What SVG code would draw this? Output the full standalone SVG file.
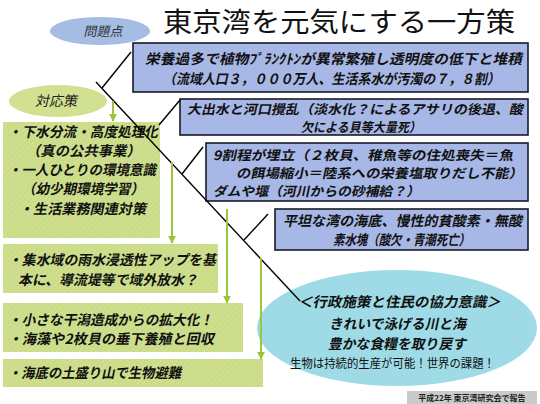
<svg xmlns="http://www.w3.org/2000/svg" width="540" height="404" viewBox="0 0 540 404">
<style>
.t{font-family:"Noto Sans CJK JP","Noto Sans CJK SC",sans-serif;}
.bx{font-family:"Noto Sans CJK JP","Noto Sans CJK SC",sans-serif;font-weight:bold;fill:#111;font-size:14px;}
.s{font-size:13px;}
.blue{fill:#a7b7e6;stroke:#1a1a2a;stroke-width:1.6;}
.ln{stroke:#000;stroke-width:1.4;fill:none;}
.ga{stroke:#9dc43a;stroke-width:2;fill:none;marker-end:url(#ah);}
</style>
<defs>
<marker id="ah" viewBox="0 0 10 10" refX="9" refY="5" markerWidth="4" markerHeight="4" orient="auto"><path d="M0,0 L10,5 L0,10 z" fill="#9dc43a"/></marker>
<pattern id="hb" width="4" height="4" patternUnits="userSpaceOnUse" patternTransform="rotate(45)"><rect width="4" height="4" fill="#a7b7e6"/><line x1="0" y1="0" x2="0" y2="4" stroke="#bac7ee" stroke-width="1"/></pattern>
<pattern id="hg" width="4" height="4" patternUnits="userSpaceOnUse" patternTransform="rotate(45)"><rect width="4" height="4" fill="#cbdc88"/><line x1="0" y1="0" x2="0" y2="4" stroke="#d9e6a3" stroke-width="1"/></pattern>
</defs>
<rect width="540" height="404" fill="#fff"/>

<g id="title"><text class="t" x="339" y="32" font-size="27" text-anchor="middle" fill="#111" textLength="352" lengthAdjust="spacingAndGlyphs">東京湾を元気にする一方策</text></g>

<g id="mondai"><ellipse cx="100" cy="31" rx="50" ry="14" fill="#a5bde3"/><text class="t" transform="translate(103,36) skewX(-12)" font-size="13" text-anchor="middle" fill="#333">問題点</text></g>
<g id="taiou"><ellipse cx="58" cy="101" rx="49" ry="16" fill="#d2e191"/><text class="t" transform="translate(56,106) skewX(-12)" font-size="14" text-anchor="middle" fill="#222">対応策</text></g>

<g id="p1"><rect class="blue" x="133" y="43" width="395" height="49" fill="url(#hb)"/>
<text class="bx" transform="translate(145,64) skewX(-12)" textLength="377" lengthAdjust="spacingAndGlyphs">栄養過多で植物ﾌﾟﾗﾝｸﾄﾝが異常繁殖し透明度の低下と堆積</text>
<text class="bx" transform="translate(163,84) skewX(-12)" textLength="337" lengthAdjust="spacingAndGlyphs">（流域人口３，０００万人、生活系水が汚濁の７，８割）</text></g>

<g id="p2"><rect class="blue" x="180" y="99" width="348" height="36" fill="url(#hb)"/>
<text class="bx s" transform="translate(187,114) skewX(-12)" textLength="336" lengthAdjust="spacingAndGlyphs">大出水と河口攪乱（淡水化？によるアサリの後退、酸</text>
<text class="bx s" transform="translate(301,132) skewX(-12)" textLength="120" lengthAdjust="spacingAndGlyphs">欠による貝等大量死）</text></g>

<g id="p3"><rect class="blue" x="206" y="143" width="322" height="58" fill="url(#hb)"/>
<text class="bx s" transform="translate(213,160) skewX(-12)" textLength="300" lengthAdjust="spacingAndGlyphs">9割程が埋立（２枚貝、稚魚等の住処喪失＝魚</text>
<text class="bx s" transform="translate(236,178) skewX(-12)" textLength="287" lengthAdjust="spacingAndGlyphs">の餌場縮小＝陸系への栄養塩取りだし不能）</text>
<text class="bx s" transform="translate(213,196) skewX(-12)" textLength="207" lengthAdjust="spacingAndGlyphs">ダムや堰（河川からの砂補給？）</text></g>

<g id="p4"><rect class="blue" x="275" y="209" width="253" height="41" fill="url(#hb)"/>
<text class="bx" transform="translate(283,226) skewX(-12)" textLength="239" lengthAdjust="spacingAndGlyphs">平坦な湾の海底、慢性的貧酸素・無酸</text>
<text class="bx" transform="translate(333,245) skewX(-12)" textLength="137" lengthAdjust="spacingAndGlyphs">素水塊（酸欠・青潮死亡）</text></g>

<g id="g1"><rect x="3" y="122" width="157" height="116" fill="url(#hg)"/>
<text class="bx" transform="translate(8,137) skewX(-12)" textLength="150" lengthAdjust="spacingAndGlyphs">・下水分流・高度処理化</text>
<text class="bx" transform="translate(26,156) skewX(-12)" textLength="115" lengthAdjust="spacingAndGlyphs">（真の公共事業）</text>
<text class="bx" transform="translate(8,175) skewX(-12)" textLength="148" lengthAdjust="spacingAndGlyphs">・一人ひとりの環境意識</text>
<text class="bx" transform="translate(22,194) skewX(-12)" textLength="122" lengthAdjust="spacingAndGlyphs">（幼少期環境学習）</text>
<text class="bx" transform="translate(19,214) skewX(-12)" textLength="127" lengthAdjust="spacingAndGlyphs">・生活業務関連対策</text></g>

<g id="g2"><rect x="3" y="244" width="215" height="49" fill="url(#hg)"/>
<text class="bx" transform="translate(8,265) skewX(-12)" textLength="208" lengthAdjust="spacingAndGlyphs">・集水域の雨水浸透性アップを基</text>
<text class="bx" transform="translate(18,285) skewX(-12)" textLength="180" lengthAdjust="spacingAndGlyphs">本に、導流堤等で域外放水？</text></g>

<g id="g3"><rect x="3" y="303" width="240" height="49" fill="url(#hg)"/>
<text class="bx" transform="translate(8,325) skewX(-12)" textLength="205" lengthAdjust="spacingAndGlyphs">・小さな干潟造成からの拡大化！</text>
<text class="bx" transform="translate(8,344) skewX(-12)" textLength="206" lengthAdjust="spacingAndGlyphs">・海藻や2枚貝の垂下養殖と回収</text></g>

<g id="g4"><rect x="3" y="359" width="260" height="28" fill="url(#hg)"/>
<text class="bx" transform="translate(8,378) skewX(-12)" textLength="173" lengthAdjust="spacingAndGlyphs">・海底の土盛り山で生物避難</text></g>

<g id="goal"><ellipse cx="397" cy="328" rx="140" ry="58" fill="#9edbe6"/>
<text class="bx" transform="translate(298,307) skewX(-12)" font-size="16" textLength="203" lengthAdjust="spacingAndGlyphs">＜行政施策と住民の協力意識＞</text>
<text class="bx" transform="translate(329,329) skewX(-12)" font-size="16" textLength="137" lengthAdjust="spacingAndGlyphs">きれいで泳げる川と海</text>
<text class="bx" transform="translate(328,349) skewX(-12)" font-size="16" textLength="138" lengthAdjust="spacingAndGlyphs">豊かな食糧を取り戻す</text>
<text class="t" x="290" y="368" font-size="12" fill="#111" textLength="205" lengthAdjust="spacingAndGlyphs">生物は持続的生産が可能！世界の課題！</text></g>

<g id="note"><rect x="407" y="391" width="130" height="13" fill="#cacaca"/>
<text class="t" x="472" y="401" font-size="8" font-weight="bold" text-anchor="middle" fill="#222">平成22年 東京湾研究会で報告</text></g>

<g id="connectors">
<line class="ln" x1="96" y1="82" x2="300" y2="301"/>
<line class="ln" x1="131" y1="52" x2="102" y2="88"/>
<line class="ln" x1="180" y1="100" x2="159" y2="125"/>
<line class="ln" x1="203" y1="147" x2="182" y2="174"/>
<line class="ln" x1="268" y1="214" x2="244" y2="240"/>
<line class="ga" x1="113" y1="101" x2="113" y2="121"/>
<line class="ga" x1="172" y1="162" x2="172" y2="243"/>
<line class="ga" x1="227" y1="209" x2="227" y2="303"/>
<line class="ga" x1="261" y1="258" x2="261" y2="359"/>
</g>
</svg>
